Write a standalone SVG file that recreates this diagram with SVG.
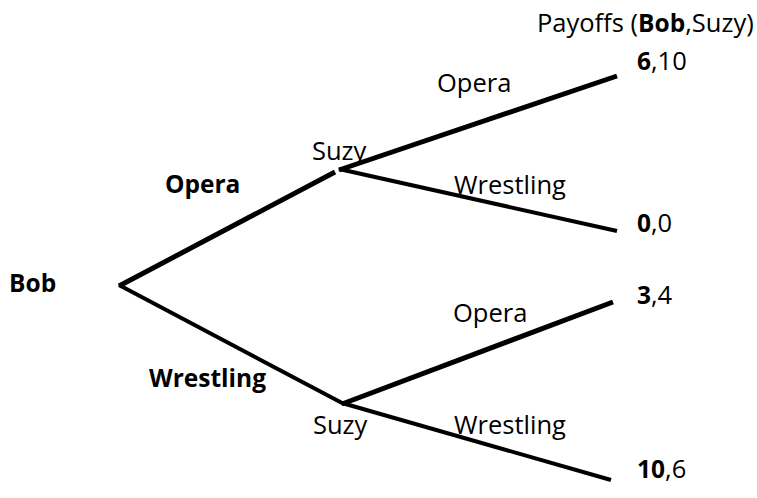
<svg xmlns="http://www.w3.org/2000/svg" width="757" height="498" viewBox="0 0 757 498">
<style>
text{font-family:"Open Sans","Noto Sans",sans-serif;font-size:25.5px;fill:#000}
.b{font-weight:bold;font-size:24.5px}
.e{stroke:#000;stroke-linecap:butt;fill:none}
.t{stroke-width:5}
.n{stroke-width:4}
</style>
<rect width="757" height="498" fill="#fff"/>
<g id="connectors">
<line class="e t" x1="119" y1="286" x2="335" y2="172"/>
<line class="e t" x1="339" y1="170" x2="617" y2="76"/>
<line class="e n" x1="339" y1="169" x2="617" y2="231"/>
<line class="e n" x1="119" y1="285" x2="344" y2="404"/>
<line class="e t" x1="342" y1="404" x2="613" y2="302"/>
<line class="e n" x1="342" y1="403" x2="611" y2="480"/>
</g>
<g id="header"><text x="537" y="32">Payoffs (<tspan class="b">Bob</tspan>,Suzy)</text></g>
<g id="bob"><text class="b" x="9" y="292">Bob</text></g>
<g id="bob-opera"><text class="b" x="165" y="193">Opera</text></g>
<g id="bob-wrestling"><text class="b" x="149" y="387">Wrestling</text></g>
<g id="suzy-top"><text x="312" y="160">Suzy</text></g>
<g id="suzy-top-opera"><text x="437" y="92">Opera</text></g>
<g id="suzy-top-wrestling"><text x="454" y="194">Wrestling</text></g>
<g id="suzy-bottom"><text x="313" y="434">Suzy</text></g>
<g id="suzy-bottom-opera"><text x="453" y="322">Opera</text></g>
<g id="suzy-bottom-wrestling"><text x="454" y="434">Wrestling</text></g>
<g id="payoff-1"><text x="637" y="70"><tspan class="b">6</tspan>,10</text></g>
<g id="payoff-2"><text x="637" y="232"><tspan class="b">0</tspan>,0</text></g>
<g id="payoff-3"><text x="637" y="304"><tspan class="b">3</tspan>,4</text></g>
<g id="payoff-4"><text x="637" y="478"><tspan class="b">10</tspan>,6</text></g>
</svg>
